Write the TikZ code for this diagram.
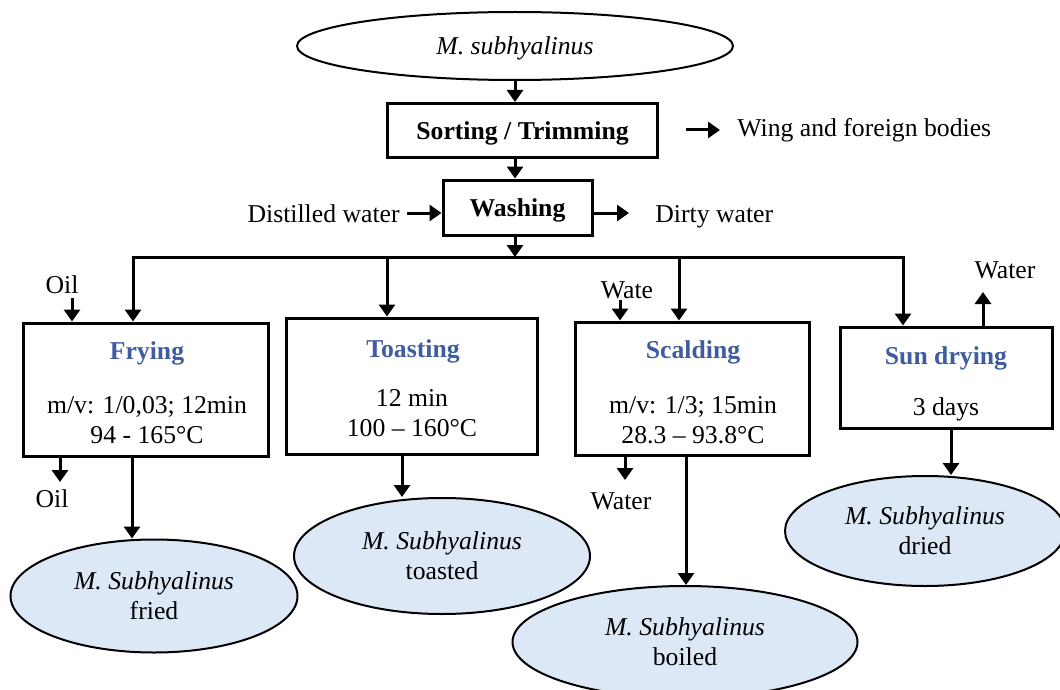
\documentclass[tikz,border=0pt]{standalone}
\usepackage{fontspec}
\setmainfont{Liberation Serif}
\usetikzlibrary{shapes.geometric,arrows.meta}
\definecolor{ellfill}{RGB}{221,232,246}
\definecolor{titleblue}{RGB}{62,92,158}
\begin{document}
\begin{tikzpicture}[x=0.5pt,y=-0.5pt,
 every node/.style={font=\fontsize{12.85}{14.8}\selectfont, inner sep=0pt, align=center},
 box/.style={draw, line width=1.5pt, rectangle},
 bld/.style={font=\fontsize{12.85}{14.8}\selectfont\bfseries},
 prod/.style={draw, ellipse, fill=ellfill, line width=1pt},
 arr/.style={line width=1.5pt, -{Triangle[length=6pt,width=8pt]}},
 ln/.style={line width=1.5pt},
 ttl/.style={font=\fontsize{12.85}{14.8}\selectfont\bfseries, text=titleblue},
]
\useasboundingbox (0,0) rectangle (1060,690);

% top part
\node[draw, ellipse, line width=1pt, minimum width=218pt, minimum height=34pt, text depth=0pt] (src) at (515,46) {\itshape M. subhyalinus};
\node[box, bld, minimum width=135pt, minimum height=27pt, text depth=0pt] (sort) at (522.5,130.5) {Sorting / Trimming};
\node[box, bld, minimum width=74.5pt, minimum height=27.5pt, text depth=0pt] (wash) at (517.5,207.5) {Washing};

\draw[arr] (src.south) -- (src.south |- sort.north);
\coordinate (s2) at (515,157);
\draw[arr] (s2 |- sort.south) -- (s2 |- wash.north);

\coordinate (wa1) at (686,130);
\coordinate (wa2) at (720,130);
\node[anchor=west] (wing) at (737,130) {Wing and foreign bodies};
\draw[arr] (wa1) -- (wa2);

\node[anchor=east] (dw) at (400,214) {Distilled water};
\coordinate (dwi) at (407,213);
\draw[arr] (dwi) -- (dwi -| wash.west);

\node[anchor=west] (dirty) at (655,217) {Dirty water};
\coordinate (dwo) at (629,213);
\draw[arr] (wash.east |- dwo) -- (dwo);

% branch
\coordinate (bl) at (133,257);
\coordinate (bt) at (387,257);
\coordinate (bs) at (679,257);
\coordinate (br) at (903,257);
\coordinate (bw) at (515,257);
\draw[arr] (bw |- wash.south) -- (bw);
\draw[ln] ([xshift=-0.75pt]bl) -- ([xshift=0.75pt]br);

% process boxes
\node[box, minimum width=122.5pt, minimum height=66.5pt] (fry) at (145.5,389.5) {};
\node[box, minimum width=125.5pt, minimum height=68pt] (toast) at (412,386) {};
\node[box, minimum width=117pt, minimum height=66.5pt] (scald) at (692,388.5) {};
\node[box, minimum width=106pt, minimum height=50.5pt] (sun) at (946,377.5) {};

\draw[arr] (bl) -- (bl |- fry.north);
\draw[arr] (bt) -- (bt |- toast.north);
\draw[arr] (bs) -- (bs |- scald.north);
\draw[arr] (br) -- (br |- sun.north);

\node[ttl] (fryt) at (147,353) {Frying};
\node (fryd) at (147,420) {m/v: 1/0,03; 12min\\94 - 165°C};
\node[ttl] (toastt) at (413,351) {Toasting};
\node (toastd) at (412,413) {12 min\\100 – 160°C};
\node[ttl] (scaldt) at (693,352) {Scalding};
\node (scaldd) at (693,420) {m/v: 1/3; 15min\\28.3 – 93.8°C};
\node[ttl] (sunt) at (946,358) {Sun drying};
\node (sund) at (946,409) {3 days};

% inputs
\node (oilin) at (62,285) {Oil};
\coordinate (oa) at (72,298);
\draw[arr] (oa) -- (oa |- fry.north);
\node (watein) at (627,290) {Wate};
\coordinate (wi) at (620,300);
\draw[arr] (wi) -- (wi |- scald.north);
\node (waterout) at (1005,270) {Water};
\coordinate (wu) at (983,292);
\draw[arr] (wu |- sun.north) -- (wu);

% outputs
\node[prod, minimum width=143.5pt, minimum height=56.5pt] (fried) at (154,596) {\itshape M. Subhyalinus\\fried};
\node[prod, minimum width=148pt, minimum height=58pt] (toasted) at (442,556) {\itshape M. Subhyalinus\\toasted};
\node[prod, minimum width=172.5pt, minimum height=56pt] (boiled) at (685,642) {\itshape M. Subhyalinus\\boiled};
\node[prod, minimum width=140pt, minimum height=55pt] (dried) at (925,531) {\itshape M. Subhyalinus\\dried};

\coordinate (oo) at (60,482);
\draw[arr] (oo |- fry.south) -- (oo);
\node (oilout) at (52,499) {Oil};
\coordinate (fd) at (132,0);
\draw[arr] (fd |- fry.south) -- (fd |- fried.north);
\coordinate (td) at (402,0);
\draw[arr] (td |- toast.south) -- (td |- toasted.north);
\coordinate (so) at (625,480);
\draw[arr] (so |- scald.south) -- (so);
\node (waterout2) at (621,501) {Water};
\coordinate (sd) at (686,0);
\draw[arr] (sd |- scald.south) -- (sd |- boiled.north);
\coordinate (dd) at (951,0);
\draw[arr] (dd |- sun.south) -- (dd |- dried.north);
\end{tikzpicture}
\end{document}
